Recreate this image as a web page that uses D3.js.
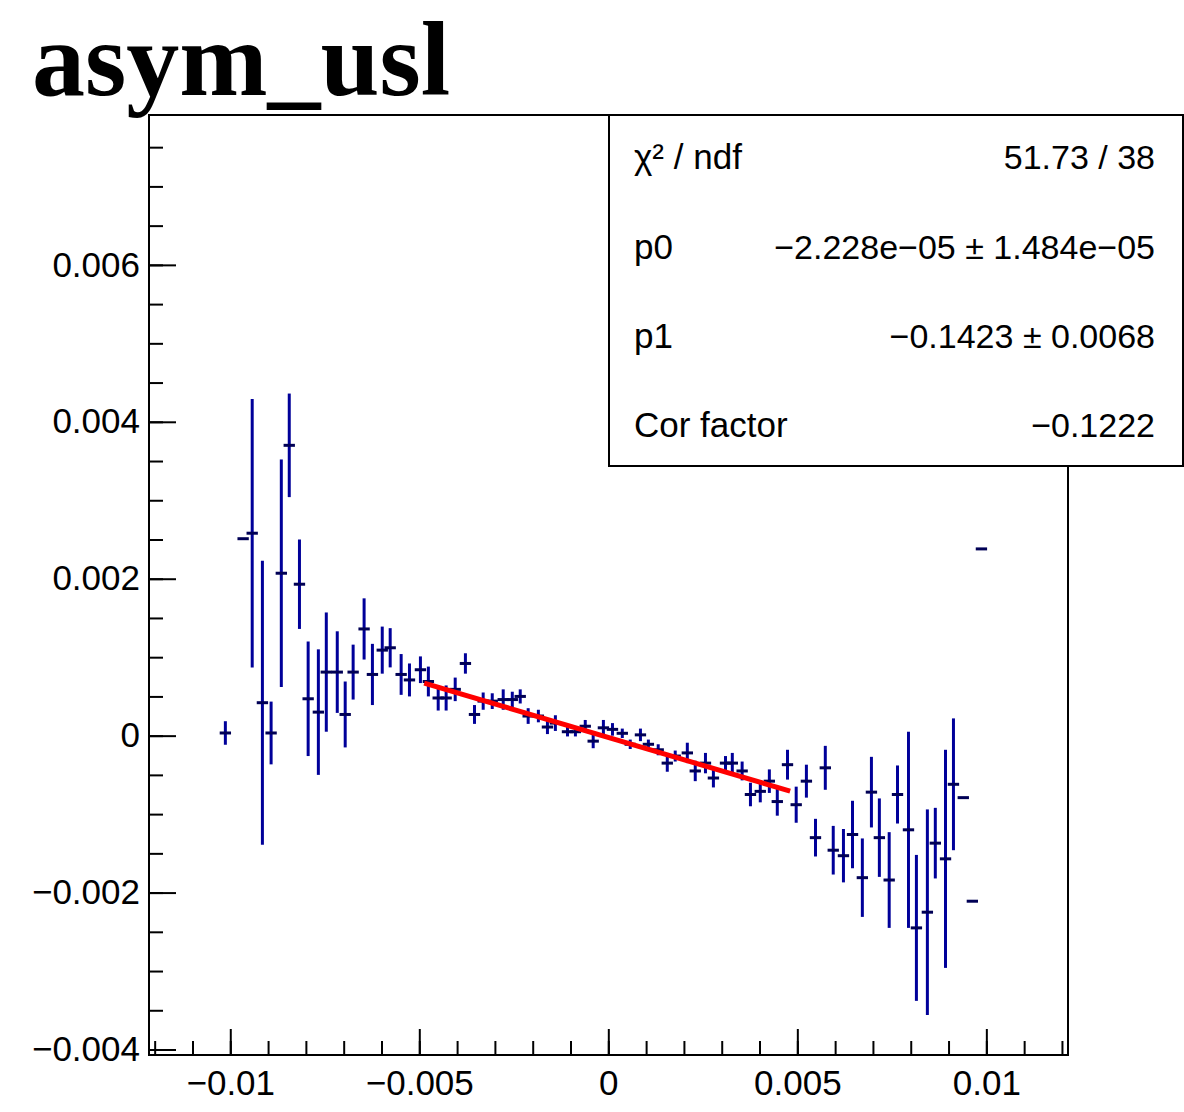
<!DOCTYPE html>
<html lang="en">
<head>
<meta charset="utf-8">
<title>asym_usl</title>
<script src="https://d3js.org/d3.v7.min.js"></script>
<style>
body { margin: 0; background: #fff; }
svg text { font-family: "Liberation Sans", Helvetica, Arial, sans-serif; }
</style>
</head>
<body>
<script>

// profile bins: bin centre, mean, error on mean
var binX = [
  -0.01013, -0.00966, -0.00942, -0.00915, -0.00892, -0.00865, -0.00844, -0.00817, -0.00794, -0.00767,
  -0.00746, -0.00717, -0.00696, -0.00675, -0.00646, -0.00624, -0.00598, -0.00577, -0.00548, -0.00526,
  -0.00497, -0.00476, -0.00450, -0.00429, -0.00405, -0.00378, -0.00354, -0.00331, -0.00307, -0.00278,
  -0.00254, -0.00233, -0.00212, -0.00185, -0.00161, -0.00140, -0.00108, -0.00087, -0.00061, -0.00040,
  -0.00013, 0.00011, 0.00037, 0.00058, 0.00085, 0.00106, 0.00132, 0.00156, 0.00177, 0.00209,
  0.00230, 0.00257, 0.00278, 0.00310, 0.00328, 0.00354, 0.00376, 0.00402, 0.00426, 0.00447,
  0.00474, 0.00497, 0.00524, 0.00548, 0.00574, 0.00595, 0.00622, 0.00646, 0.00672, 0.00696,
  0.00717, 0.00743, 0.00765, 0.00794, 0.00815, 0.00844, 0.00865, 0.00892, 0.00913, 0.00939,
  0.00963, 0.00987
];
var meanY = [
  0.000034, 0.00251, 0.00258, 0.00042, 0.000034, 0.00207, 0.00370, 0.00193, 0.00047, 0.00030,
  0.00081, 0.00081, 0.00027, 0.00081, 0.00136, 0.00078, 0.00109, 0.00112, 0.00078, 0.00071,
  0.00084, 0.00069, 0.00048, 0.00048, 0.00059, 0.00092, 0.00027, 0.00044, 0.00044, 0.00046,
  0.00046, 0.00050, 0.00025, 0.00025, 0.00011, 0.00016, 0.00005, 0.00005, 0.00012, -0.00007,
  0.00010, 0.00008, 0.00003, -0.00011, 0.00001, -0.00011, -0.00018, -0.00035, -0.00026, -0.00022,
  -0.00045, -0.00035, -0.00054, -0.00035, -0.00035, -0.00045, -0.00075, -0.00071, -0.00058, -0.00084,
  -0.00037, -0.00088, -0.00058, -0.00130, -0.00041, -0.00146, -0.00153, -0.00126, -0.00181, -0.00072,
  -0.00130, -0.00184, -0.00075, -0.00120, -0.00245, -0.00225, -0.00137, -0.00157, -0.00062, -0.00079,
  -0.00211, 0.00238
];
var errY = [
  0.00015, 0, 0.00171, 0.00181, 0.00040, 0.00145, 0.00066, 0.00057, 0.00073, 0.00080,
  0.00076, 0.00052, 0.00042, 0.00035, 0.00039, 0.00039, 0.00030, 0.00025, 0.00026, 0.00021,
  0.00017, 0.00019, 0.00016, 0.00016, 0.00015, 0.00013, 0.00012, 0.00011, 0.00010, 0.00013,
  0.00010, 0.00009, 0.00010, 0.00008, 0.00009, 0.00010, 0.00006, 0.00006, 0.00008, 0.00009,
  0.00010, 0.00008, 0.00006, 0.00006, 0.00008, 0.00006, 0.00007, 0.00011, 0.00007, 0.00013,
  0.00013, 0.00013, 0.00012, 0.00009, 0.00013, 0.00012, 0.00015, 0.00014, 0.00015, 0.00018,
  0.00019, 0.00023, 0.00021, 0.00024, 0.00028, 0.00031, 0.00034, 0.00043, 0.00050, 0.00045,
  0.00050, 0.00061, 0.00037, 0.00125, 0.00093, 0.00131, 0.00045, 0.00139, 0.00084, 0,
  0, 0
];
var binHalfWidth = 0.00015;

// pol1 fit
var fitRange = [-0.00487, 0.00481];
var fitP0 = -2.228e-05;
var fitP1 = -0.1423;

var xMajor = [-0.01, -0.005, 0, 0.005, 0.01];
var yMajor = [-0.004, -0.002, 0, 0.002, 0.004, 0.006];
var xDomain = [-0.01215, 0.01216];
var yDomain = [-0.00407, 0.00791];

var statNames = ["χ² / ndf", "p0", "p1", "Cor factor"];
var statValues = ["51.73 / 38", "−2.228e−05 ± 1.484e−05", "−0.1423 ± 0.0068", "−0.1222"];

var W = 1184, H = 1112;
var frame = {left: 149, right: 1068, top: 115, bottom: 1055};

var svg = d3.select("body").append("svg")
    .attr("width", W)
    .attr("height", H);

var x = d3.scaleLinear().domain(xDomain).range([frame.left, frame.right]);
var y = d3.scaleLinear().domain(yDomain).range([frame.bottom, frame.top]);

function fmt(v) { return String(v).replace("-", "−"); }

// minor ticks every 0.001 / 0.0005
var xMinor = d3.range(-12, 13).map(function(i){ return i * 0.001; });
var yMinor = d3.range(-8, 16).map(function(i){ return i * 0.0005; });

svg.append("g")
    .attr("transform", "translate(0," + frame.bottom + ")")
    .call(d3.axisBottom(x).tickValues(xMinor).tickSize(-14).tickFormat(""))
    .call(function(g){ g.select(".domain").remove(); })
    .selectAll("line").attr("stroke-width", 2);

svg.append("g")
    .attr("transform", "translate(0," + frame.bottom + ")")
    .call(d3.axisBottom(x).tickValues(xMajor).tickSize(-26).tickPadding(15).tickFormat(fmt))
    .call(function(g){ g.select(".domain").remove(); })
    .call(function(g){
      g.selectAll("line").attr("stroke-width", 2);
      g.selectAll("text").attr("font-size", "35px").attr("fill", "#000")
        .style("font-family", "'Liberation Sans', Helvetica, Arial, sans-serif");
    });

svg.append("g")
    .attr("transform", "translate(" + frame.left + ",0)")
    .call(d3.axisLeft(y).tickValues(yMinor).tickSize(-14).tickFormat(""))
    .call(function(g){ g.select(".domain").remove(); })
    .selectAll("line").attr("stroke-width", 2);

svg.append("g")
    .attr("transform", "translate(" + frame.left + ",0)")
    .call(d3.axisLeft(y).tickValues(yMajor).tickSize(-27).tickPadding(9).tickFormat(fmt))
    .call(function(g){ g.select(".domain").remove(); })
    .call(function(g){
      g.selectAll("line").attr("stroke-width", 2);
      g.selectAll("text").attr("font-size", "35px").attr("fill", "#000")
        .style("font-family", "'Liberation Sans', Helvetica, Arial, sans-serif");
    });

// frame
svg.append("rect")
    .attr("x", frame.left)
    .attr("y", frame.top)
    .attr("width", frame.right - frame.left)
    .attr("height", frame.bottom - frame.top)
    .attr("fill", "none")
    .attr("stroke", "#000")
    .attr("stroke-width", 2);

// error bars
var pts = binX.map(function(d, i){ return {x: d, y: meanY[i], e: errY[i]}; });
var bars = svg.append("g").attr("stroke", "#000099").attr("stroke-width", 3);

bars.selectAll("line.v")
    .data(pts.filter(function(d){ return d.e > 0; }))
    .enter().append("line")
    .attr("class", "v")
    .attr("x1", function(d){ return x(d.x); })
    .attr("x2", function(d){ return x(d.x); })
    .attr("y1", function(d){ return y(d.y + d.e); })
    .attr("y2", function(d){ return y(d.y - d.e); });

bars.selectAll("line.h")
    .data(pts)
    .enter().append("line")
    .attr("class", "h")
    .attr("stroke", "#000055")
    .attr("x1", function(d){ return x(d.x - binHalfWidth); })
    .attr("x2", function(d){ return x(d.x + binHalfWidth); })
    .attr("y1", function(d){ return y(d.y); })
    .attr("y2", function(d){ return y(d.y); });

// fit line
svg.append("line")
    .attr("x1", x(fitRange[0]))
    .attr("y1", y(fitP0 + fitP1 * fitRange[0]))
    .attr("x2", x(fitRange[1]))
    .attr("y2", y(fitP0 + fitP1 * fitRange[1]))
    .attr("stroke", "#ff0000")
    .attr("stroke-width", 5);

// stats box
var box = {x: 609, y: 115, w: 574, h: 351};
svg.append("rect")
    .attr("x", box.x)
    .attr("y", box.y)
    .attr("width", box.w)
    .attr("height", box.h)
    .attr("fill", "#fff")
    .attr("stroke", "#000")
    .attr("stroke-width", 2);

var rowBase = [169, 259, 348, 437];
svg.append("g").selectAll("text")
    .data(statNames)
    .enter().append("text")
    .attr("x", 634)
    .attr("y", function(d, i){ return rowBase[i]; })
    .attr("font-size", "35px")
    .text(function(d){ return d; });

svg.append("g").selectAll("text")
    .data(statValues)
    .enter().append("text")
    .attr("x", 1155)
    .attr("y", function(d, i){ return rowBase[i]; })
    .attr("font-size", "34px")
    .attr("text-anchor", "end")
    .text(function(d){ return d; });

// title
svg.append("text")
    .attr("x", 32)
    .attr("y", 95)
    .attr("font-size", "106px")
    .attr("font-weight", "bold")
    .style("font-family", "'Liberation Serif', 'Times New Roman', serif")
    .text("asym_usl");

</script>
</body>
</html>
